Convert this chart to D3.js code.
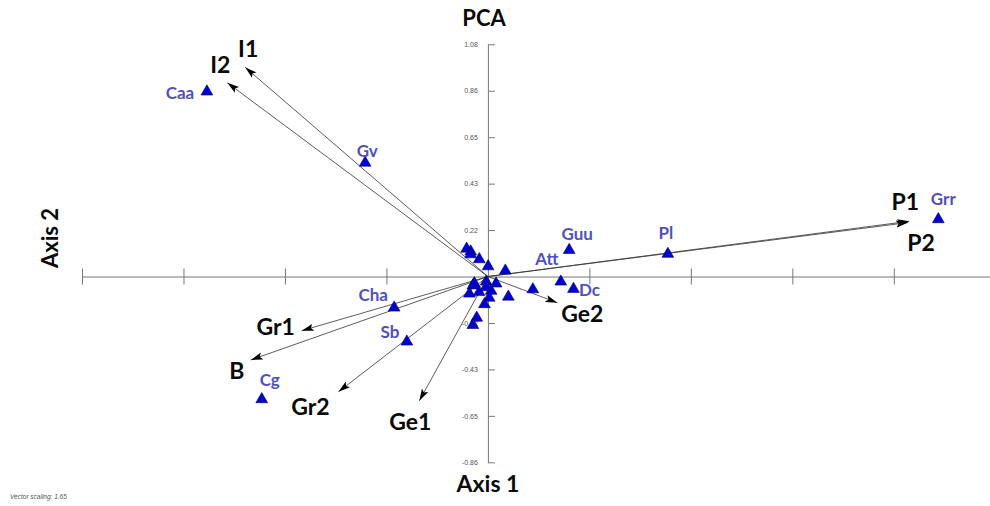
<!DOCTYPE html>
<html>
<head>
<meta charset="utf-8">
<script src="https://cdn.jsdelivr.net/npm/d3@7"></script>
<style>
	body { margin: 0; background: #fff; }
	svg { display: block; }
	.tick-label { font-family: 'Liberation Sans', Arial, sans-serif; font-size: 7px; fill: #555; }
	.pt-label { font-family: Lato, 'Open Sans', sans-serif; font-weight: bold; font-size: 17px; fill: #4f4fc4; }
	.vec-label { font-family: Lato, 'Open Sans', sans-serif; font-weight: bold; font-size: 23px; fill: #0a0a0a; }
	.title { font-family: Lato, 'Open Sans', sans-serif; font-weight: bold; font-size: 22px; fill: #0a0a0a; }
</style>
</head>
<body>
<script>
// axis 2 tick values (labelled), axis 1 ticks (unlabelled)
const yTicks = [-0.864, -0.648, -0.432, -0.216, 0.216, 0.432, 0.648, 0.864, 1.08];
const xTicks = [-1.888, -1.416, -0.944, -0.472, 0.472, 0.944, 1.416, 1.888];

// sample scores (axis 1, axis 2); blank name = unlabelled
const ptNames = ['Caa', 'Gv', 'Grr', 'Pl', 'Guu', 'Att', 'Dc', 'Cha', 'Sb', 'Cg',
	'', '', '', '', '', '', '', '', '', '', '', '', '', '', '', '', '', '', '', ''];
const ptAxis1 = [-1.307, -0.571, 2.095, 0.837, 0.378, 0.339, 0.398, -0.436, -0.377, -1.052,
	-0.099, -0.080, -0.080, -0.040, 0.001, 0.081, -0.063, -0.070, -0.008, 0.038,
	-0.008, -0.086, -0.041, 0.015, 0.006, 0.095, -0.016, -0.052, -0.070, 0.209];
const ptAxis2 = [0.860, 0.529, 0.266, 0.105, 0.123, -0.024, -0.058, -0.145, -0.303, -0.571,
	0.129, 0.116, 0.103, 0.080, 0.047, 0.027, -0.032, -0.042, -0.024, -0.033,
	-0.050, -0.080, -0.073, -0.067, -0.099, -0.094, -0.129, -0.192, -0.226, -0.060];

// variable vectors
const vecNames = ['I1', 'I2', 'P1', 'P2', 'Gr1', 'B', 'Gr2', 'Ge1', 'Ge2'];
const vecAxis1 = [-1.129, -1.212, 1.960, 1.954, -0.866, -1.103, -0.695, -0.319, 0.323];
const vecAxis2 = [0.973, 0.901, 0.257, 0.251, -0.252, -0.388, -0.536, -0.578, -0.122];

// where each label sits relative to its mark (px)
const ptLabelPos = {
	Caa: [-27, 1], Gv: [2, -12], Grr: [5, -21], Pl: [-2, -21], Guu: [8, -17],
	Att: [-14, -23], Dc: [16, 1], Cha: [-21, -13], Sb: [-17, -10], Cg: [8, -20]
};
const vecLabelPos = {
	I1: [3, -19], I2: [-7, -19], P1: [-4, -20], P2: [13, 19], Gr1: [-26, -5],
	B: [-14, 10], Gr2: [-28, 14], Ge1: [-9, 20], Ge2: [25, 10]
};

const W = 990, H = 506;
const x = d3.scaleLinear().domain([-1.888, 2.36]).range([82, 995.3]);
const y = d3.scaleLinear().domain([-0.864, 1.08]).range([462.3, 44.3]);

const svg = d3.select('body').append('svg').attr('width', W).attr('height', H);

svg.append('defs').append('marker')
	.attr('id', 'arrow')
	.attr('viewBox', '0 -4 12 8')
	.attr('refX', 12)
	.attr('refY', 0)
	.attr('markerWidth', 12)
	.attr('markerHeight', 8)
	.attr('markerUnits', 'userSpaceOnUse')
	.attr('orient', 'auto')
	.append('path')
	.attr('d', 'M0,-3.6L12,0L0,3.6L2.5,0Z')
	.attr('fill', '#000');

// axis 1 (horizontal, crossing ticks)
const gx = svg.append('g')
	.attr('transform', `translate(0,${y(0)})`)
	.call(d3.axisBottom(x).tickValues(xTicks).tickSizeOuter(0).tickFormat(''));
gx.select('.domain').attr('stroke', '#777');
gx.selectAll('.tick line').attr('y1', -8).attr('y2', 8).attr('stroke', '#777');

// axis 2 (vertical, labelled)
const gy = svg.append('g')
	.attr('transform', `translate(${x(0)},0)`)
	.call(d3.axisLeft(y).tickValues(yTicks).tickSizeInner(9).tickSizeOuter(0)
		.tickFormat(d => d.toFixed(2)));
gy.select('.domain').attr('stroke', '#777');
gy.selectAll('.tick line').attr('x2', 7).attr('stroke', '#777');
gy.selectAll('.tick text').attr('class', 'tick-label').attr('x', -10);

// vectors
const vecs = vecNames.map((n, i) => ({ name: n, a1: vecAxis1[i], a2: vecAxis2[i] }));
svg.append('g').selectAll('line')
	.data(vecs)
	.enter()
	.append('line')
	.attr('x1', x(0))
	.attr('y1', y(0))
	.attr('x2', d => x(d.a1))
	.attr('y2', d => y(d.a2))
	.attr('stroke', '#333')
	.attr('stroke-width', 0.8)
	.attr('marker-end', 'url(#arrow)');

svg.append('g').selectAll('text')
	.data(vecs)
	.enter()
	.append('text')
	.attr('class', 'vec-label')
	.attr('text-anchor', 'middle')
	.attr('dominant-baseline', 'central')
	.attr('x', d => x(d.a1) + vecLabelPos[d.name][0])
	.attr('y', d => y(d.a2) + vecLabelPos[d.name][1])
	.text(d => d.name);

// sample points
const pts = ptNames.map((n, i) => ({ name: n, a1: ptAxis1[i], a2: ptAxis2[i] }));
svg.append('g').selectAll('path')
	.data(pts)
	.enter()
	.append('path')
	.attr('d', d3.symbol().type(d3.symbolTriangle).size(60))
	.attr('transform', d => `translate(${x(d.a1)},${y(d.a2)})`)
	.attr('fill', '#0000d0')
	.attr('stroke', '#00006a')
	.attr('stroke-width', 0.6);

svg.append('g').selectAll('text')
	.data(pts.filter(d => d.name))
	.enter()
	.append('text')
	.attr('class', 'pt-label')
	.attr('text-anchor', 'middle')
	.attr('dominant-baseline', 'central')
	.attr('x', d => x(d.a1) + ptLabelPos[d.name][0])
	.attr('y', d => y(d.a2) + ptLabelPos[d.name][1])
	.text(d => d.name);

// titles
svg.append('text').attr('class', 'title').attr('text-anchor', 'middle')
	.attr('x', 484).attr('y', 26).text('PCA');
svg.append('text').attr('class', 'title').attr('text-anchor', 'middle')
	.attr('x', 488).attr('y', 492).style('font-size', '23px').text('Axis 1');
svg.append('text').attr('class', 'title').attr('text-anchor', 'middle')
	.attr('transform', 'translate(58,238) rotate(-90)').text('Axis 2');

svg.append('text')
	.attr('x', 10).attr('y', 499)
	.style('font-family', 'Liberation Sans, Arial, sans-serif')
	.style('font-size', '6.5px')
	.style('font-style', 'italic')
	.attr('fill', '#555')
	.text('Vector scaling: 1.65');
</script>
</body>
</html>
